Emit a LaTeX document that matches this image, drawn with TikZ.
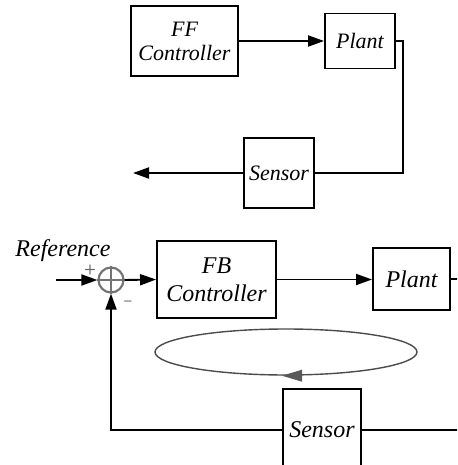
\documentclass[tikz,border=0pt]{standalone}
\usepackage{fontspec}
\setmainfont{Liberation Serif}
\usetikzlibrary{arrows.meta}
\usetikzlibrary{shapes.geometric}
\usepackage{xcolor}

\begin{document}
\begin{tikzpicture}[x=1pt, y=-1pt]
    % ================= styles =================
    \tikzset{
        % block: white box, black frame, italic serif text
        blk/.style={draw=black, line width=1.9pt, fill=white, align=center, inner sep=0pt},
        toptxt/.style={font=\fontsize{22}{24}\selectfont\itshape},
        bottxt/.style={font=\fontsize{24}{28}\selectfont\itshape},
        % signal lines
        sig/.style={line width=1.9pt, black},
        sigarr/.style={sig, -{Triangle[length=16pt, width=11pt]}},
        % summing junction and its signs
        sumnode/.style={circle, draw=gray!90!black, line width=2.2pt, minimum size=25pt, inner sep=0pt},
        sign/.style={text=gray!80!black, inner sep=0pt, font=\fontsize{14}{14}\selectfont\bfseries\sffamily}
    }
    \clip (0,0) rectangle (457,465);
    \useasboundingbox (0,0) rectangle (457,465);

    % ================= top: feed-forward =================
    \node[blk, toptxt, minimum width=107pt, minimum height=70pt] (ffc) at (184.5,41) {FF\\Controller};
    \node[blk, toptxt, minimum width=70pt, minimum height=55pt] (fplant) at (360,41) {Plant};
    \node[blk, toptxt, minimum width=70pt, minimum height=70pt] (fsens) at (279,173) {Sensor};
    \coordinate (fcorner) at (403,41);
    \coordinate (fout) at (133,173);

    \draw[sigarr] (ffc.east) -- (fplant.west);
    \draw[sig] (fplant.east) -- (fcorner) |- (fsens.east);
    \draw[sigarr] (fsens.west) -- (fout);

    % ================= bottom: feedback loop =================
    \node[bottxt, inner sep=0pt] (reftxt) at (63,251) {Reference};
    \coordinate (rin) at (56,280);
    \node[sumnode] (sum) at (111,280) {};
    \draw[gray!90!black, line width=2.2pt] (sum.north) -- (sum.south) (sum.west) -- (sum.east);
    \node[sign] (plus) at (90,270) {+};
    \node[sign] (minus) at (128,303) {--};

    \node[blk, bottxt, minimum width=119pt, minimum height=77pt] (fbc) at (216.5,279.5) {FB\\Controller};
    \node[blk, bottxt, minimum width=77pt, minimum height=62pt] (bplant) at (411.5,279) {Plant};
    \node[blk, bottxt, minimum width=78pt, minimum height=82pt] (bsens) at (322,430) {Sensor};
    \coordinate (bout) at (460,279);
    \coordinate (bfb) at (460,430);

    % loop symbol
    \node[draw=gray!60!black, line width=1.4pt, ellipse, minimum width=262pt, minimum height=46pt] (loop) at (286,352) {};
    \draw[draw=none, fill=gray!70!black] ([xshift=-4pt]loop.south) -- ++(20,-6) -- ++(0,12) -- cycle;

    \draw[sigarr] (rin) -- (sum.west);
    \draw[sigarr] (sum.east) -- (fbc.west);
    \draw[sigarr] (fbc.east) -- (fbc.east -| bplant.west);
    \draw[sig] (bplant.east) -- (bout);
    \draw[sig] (bfb) -- (bsens.east);
    \draw[sigarr] (bsens.west) -| (sum.south);

\end{tikzpicture}
\end{document}
